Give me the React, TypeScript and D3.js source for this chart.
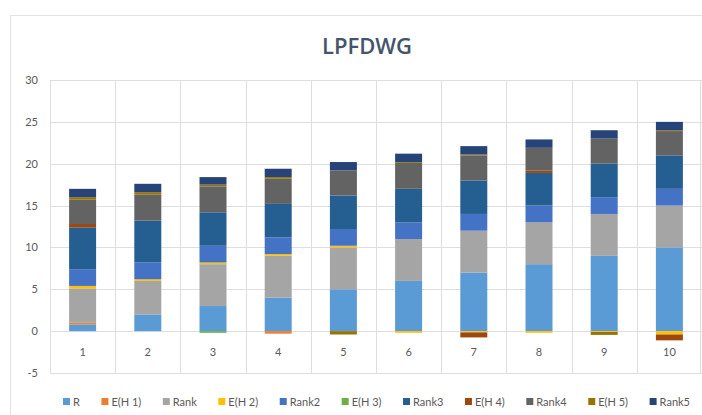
import { useMemo } from 'react';
import * as d3 from 'd3';

const categories = ['1', '2', '3', '4', '5', '6', '7', '8', '9', '10'];
const seriesNames = ['R', 'E(H 1)', 'Rank', 'E(H 2)', 'Rank2', 'E(H 3)', 'Rank3', 'E(H 4)', 'Rank4', 'E(H 5)', 'Rank5'];
const seriesColors = ['#5B9BD5', '#ED7D31', '#A5A5A5', '#FFC000', '#4472C4', '#70AD47', '#255E91', '#9E480E', '#636363', '#997300', '#264478'];

const rValues = [0.8, 2, 3, 4, 5, 6, 7, 8, 9, 10];
const eh1Values = [0.2, 0, 0, -0.3, 0, 0, 0, 0, 0, 0];
const rankValues = [4.1, 4, 5, 5, 5, 5, 5, 5, 5, 5];
const eh2Values = [0.3, 0.2, 0.2, 0.2, 0.2, -0.2, -0.15, -0.2, -0.1, -0.4];
const rank2Values = [2, 2, 2, 2, 2, 2, 2, 2, 2, 2];
const eh3Values = [0, 0, -0.2, 0, 0, 0, 0, 0, 0, 0];
const rank3Values = [5, 5, 4, 4, 4, 4, 4, 3.9, 4, 4];
const eh4Values = [0.4, 0, 0, 0, 0, 0, -0.6, 0.3, 0, -0.7];
const rank4Values = [2.9, 3.1, 3.1, 3, 3, 3.1, 3, 2.7, 3, 2.9];
const eh5Values = [0.3, 0.3, 0.2, 0.2, -0.4, 0.1, 0.1, 0, -0.35, 0.1];
const rank5Values = [1, 1, 0.9, 1, 1, 1, 1, 1, 1, 1];

const yTicks = [-5, 0, 5, 10, 15, 20, 25, 30];

const allValues = [rValues, eh1Values, rankValues, eh2Values, rank2Values, eh3Values, rank3Values, eh4Values, rank4Values, eh5Values, rank5Values];

const W = 702;
const H = 415;
const FONT = 'Lato, "Open Sans", sans-serif';

export default function App() {
  const left = 50;
  const right = 702;
  const top = 80;
  const bottom = 373;

  const x = d3.scaleBand<string>().domain(categories).range([left, right]).padding(0);
  const y = d3.scaleLinear().domain([-5, 30]).range([bottom, top]);
  const barW = x.bandwidth() * 0.414;

  const rows = categories.map((c, i) => {
    const row: Record<string, any> = { cat: c };
    seriesNames.forEach((s, j) => { row[s] = allValues[j][i]; });
    return row;
  });

  const stacked = d3.stack<any>()
    .keys(seriesNames)
    .offset(d3.stackOffsetDiverging)(rows);

  // legend layout, measured text
  const legend = useMemo(() => {
    const ctx = document.createElement('canvas').getContext('2d')!;
    ctx.font = `11px ${FONT}`;
    const widths = seriesNames.map((s) => ctx.measureText(s).width);
    const marker = 7;
    const gap = 3;
    const start = 63;
    const end = 690;
    const used = widths.reduce((a, w) => a + marker + gap + w, 0);
    const spacing = (end - start - used) / (seriesNames.length - 1);
    let cx = start;
    return seriesNames.map((s, i) => {
      const item = { name: s, color: seriesColors[i], x: cx };
      cx += marker + gap + widths[i] + spacing;
      return item;
    });
  }, []);

  return (
    <svg width={W} height={H} style={{ position: 'absolute', left: 0, top: 0, background: '#fff' }}>
      <rect x={10.5} y={15.5} width={W} height={H} fill="#fff" stroke="#E3E3E3" />

      <text x={367} y={54} textAnchor="middle" fontFamily='"Open Sans", sans-serif'
        fontWeight={600} fontSize={22} fill="#44546A">LPFDWG</text>

      {/* horizontal gridlines */}
      {yTicks.map((t) => (
        <line key={t} x1={left} x2={right} y1={Math.round(y(t)) + 0.5} y2={Math.round(y(t)) + 0.5}
          stroke="#DEDEDE" strokeWidth={1} />
      ))}
      {/* vertical gridlines */}
      {categories.map((c) => (
        <line key={c} x1={Math.round(x(c)!) + 0.5} x2={Math.round(x(c)!) + 0.5} y1={top} y2={bottom}
          stroke="#DEDEDE" strokeWidth={1} />
      ))}
      <line x1={right - 1.5} x2={right - 1.5} y1={top} y2={bottom} stroke="#DEDEDE" />

      {/* y tick labels */}
      {yTicks.map((t) => (
        <text key={t} x={38} y={y(t) + 4} textAnchor="end" fontFamily={FONT} fontSize={11} fill="#595959">{t}</text>
      ))}

      {/* bars */}
      {stacked.map((layer, j) => (
        <g key={layer.key} fill={seriesColors[j]}>
          {layer.map((d, i) => {
            const h = Math.abs(y(d[0]) - y(d[1]));
            if (h < 0.01) return null;
            return (
              <rect key={i} x={x(categories[i])! + (x.bandwidth() - barW) / 2}
                y={Math.min(y(d[0]), y(d[1]))} width={barW} height={h} />
            );
          })}
        </g>
      ))}

      {/* category labels */}
      {categories.map((c) => (
        <text key={c} x={x(c)! + x.bandwidth() / 2} y={356} textAnchor="middle" fontFamily={FONT}
          fontSize={11} fill="#595959">{c}</text>
      ))}

      {/* legend */}
      {legend.map((l) => (
        <g key={l.name}>
          <rect x={l.x} y={398} width={7} height={7} fill={l.color} />
          <text x={l.x + 10} y={405.5} fontFamily={FONT} fontSize={11} fill="#595959">{l.name}</text>
        </g>
      ))}
    </svg>
  );
}
